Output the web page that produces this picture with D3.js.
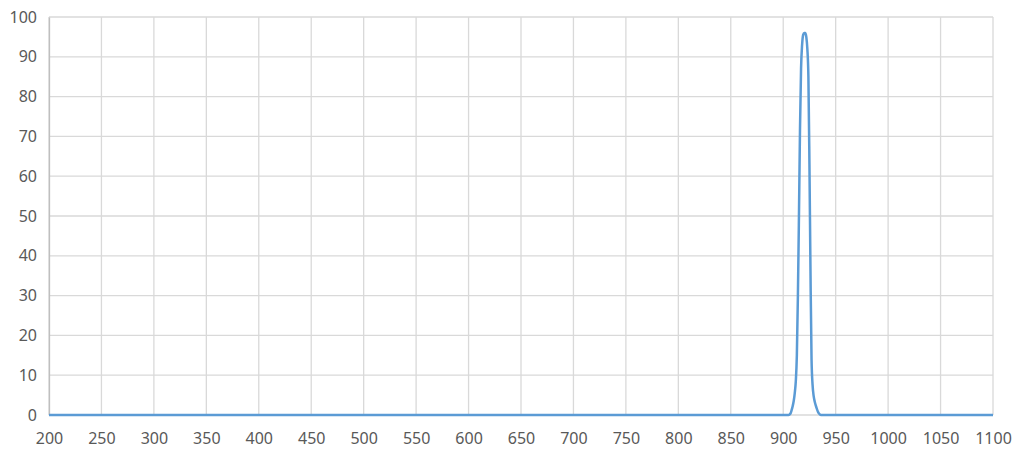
<!DOCTYPE html>
<html>
<head>
<meta charset="utf-8">
<script src="https://cdn.jsdelivr.net/npm/d3@7"></script>
<style>
  body { margin: 0; background: #fff; }
  svg text { font-family: "Noto Sans", "DejaVu Sans", sans-serif; }
</style>
</head>
<body>
<div id="chart"></div>
<script>
// wavelength (nm) and transmission (%)
const wavelengths = [200, 905, 906, 907, 908, 909, 910, 911, 912, 913, 914, 915, 916, 917, 918, 919, 920,
  921, 922, 923, 924, 925, 926, 927, 928, 929, 930, 931, 932, 933, 934, 935, 936, 1100];
const transmission = [0, 0, 0.1, 0.4, 1.2, 2.2, 3.5, 5.5, 8.5, 15, 30, 50, 72, 87, 93, 95.5, 96,
  96, 95, 92, 85, 63, 36, 14, 7.5, 4.8, 3.4, 2.4, 1.6, 0.9, 0.4, 0.1, 0, 0];
const xTicks = [200, 250, 300, 350, 400, 450, 500, 550, 600, 650, 700, 750, 800, 850, 900, 950, 1000, 1050, 1100];
const yTicks = [0, 10, 20, 30, 40, 50, 60, 70, 80, 90, 100];

const width = 1017, height = 451;
const margin = { top: 17, right: 24, bottom: 36, left: 49 };

const svg = d3.select('#chart')
  .append('svg')
  .attr('width', width)
  .attr('height', height);

const x = d3.scaleLinear()
  .domain([200, 1100])
  .range([margin.left, width - margin.right]);

const y = d3.scaleLinear()
  .domain([0, 100])
  .range([height - margin.bottom, margin.top]);

// gridlines
svg.append('g')
  .selectAll('line')
  .data(yTicks)
  .join('line')
  .attr('x1', x(200)).attr('x2', x(1100))
  .attr('y1', d => y(d)).attr('y2', d => y(d))
  .attr('stroke', '#d9d9d9')
  .attr('stroke-width', 1.3);

svg.append('g')
  .selectAll('line')
  .data(xTicks)
  .join('line')
  .attr('x1', d => x(d)).attr('x2', d => x(d))
  .attr('y1', y(0)).attr('y2', y(100))
  .attr('stroke', '#d9d9d9')
  .attr('stroke-width', 1.3);

// axes (labels only)
const xAxis = d3.axisBottom(x).tickValues(xTicks).tickFormat(d3.format('d')).tickSize(0).tickPadding(18);
const yAxis = d3.axisLeft(y).tickValues(yTicks).tickFormat(d3.format('d')).tickSize(0).tickPadding(12);

const gx = svg.append('g')
  .attr('transform', `translate(0, ${y(0)})`)
  .call(xAxis);
gx.select('.domain').remove();
gx.selectAll('text').attr('fill', '#595959').style('font-size', '16px');

const gy = svg.append('g')
  .attr('transform', `translate(${x(200)}, 0)`)
  .call(yAxis);
gy.select('.domain').attr('stroke', '#bfbfbf').attr('stroke-width', 1.3);
gy.selectAll('text').attr('fill', '#595959').style('font-size', '16px');

// series
const line = d3.line()
  .x((d, i) => x(wavelengths[i]))
  .y(d => y(d))
  .curve(d3.curveMonotoneX);

svg.append('path')
  .datum(transmission)
  .attr('fill', 'none')
  .attr('stroke', '#5b9bd5')
  .attr('stroke-width', 2.5)
  .attr('stroke-linejoin', 'round')
  .attr('d', line);
</script>
</body>
</html>
